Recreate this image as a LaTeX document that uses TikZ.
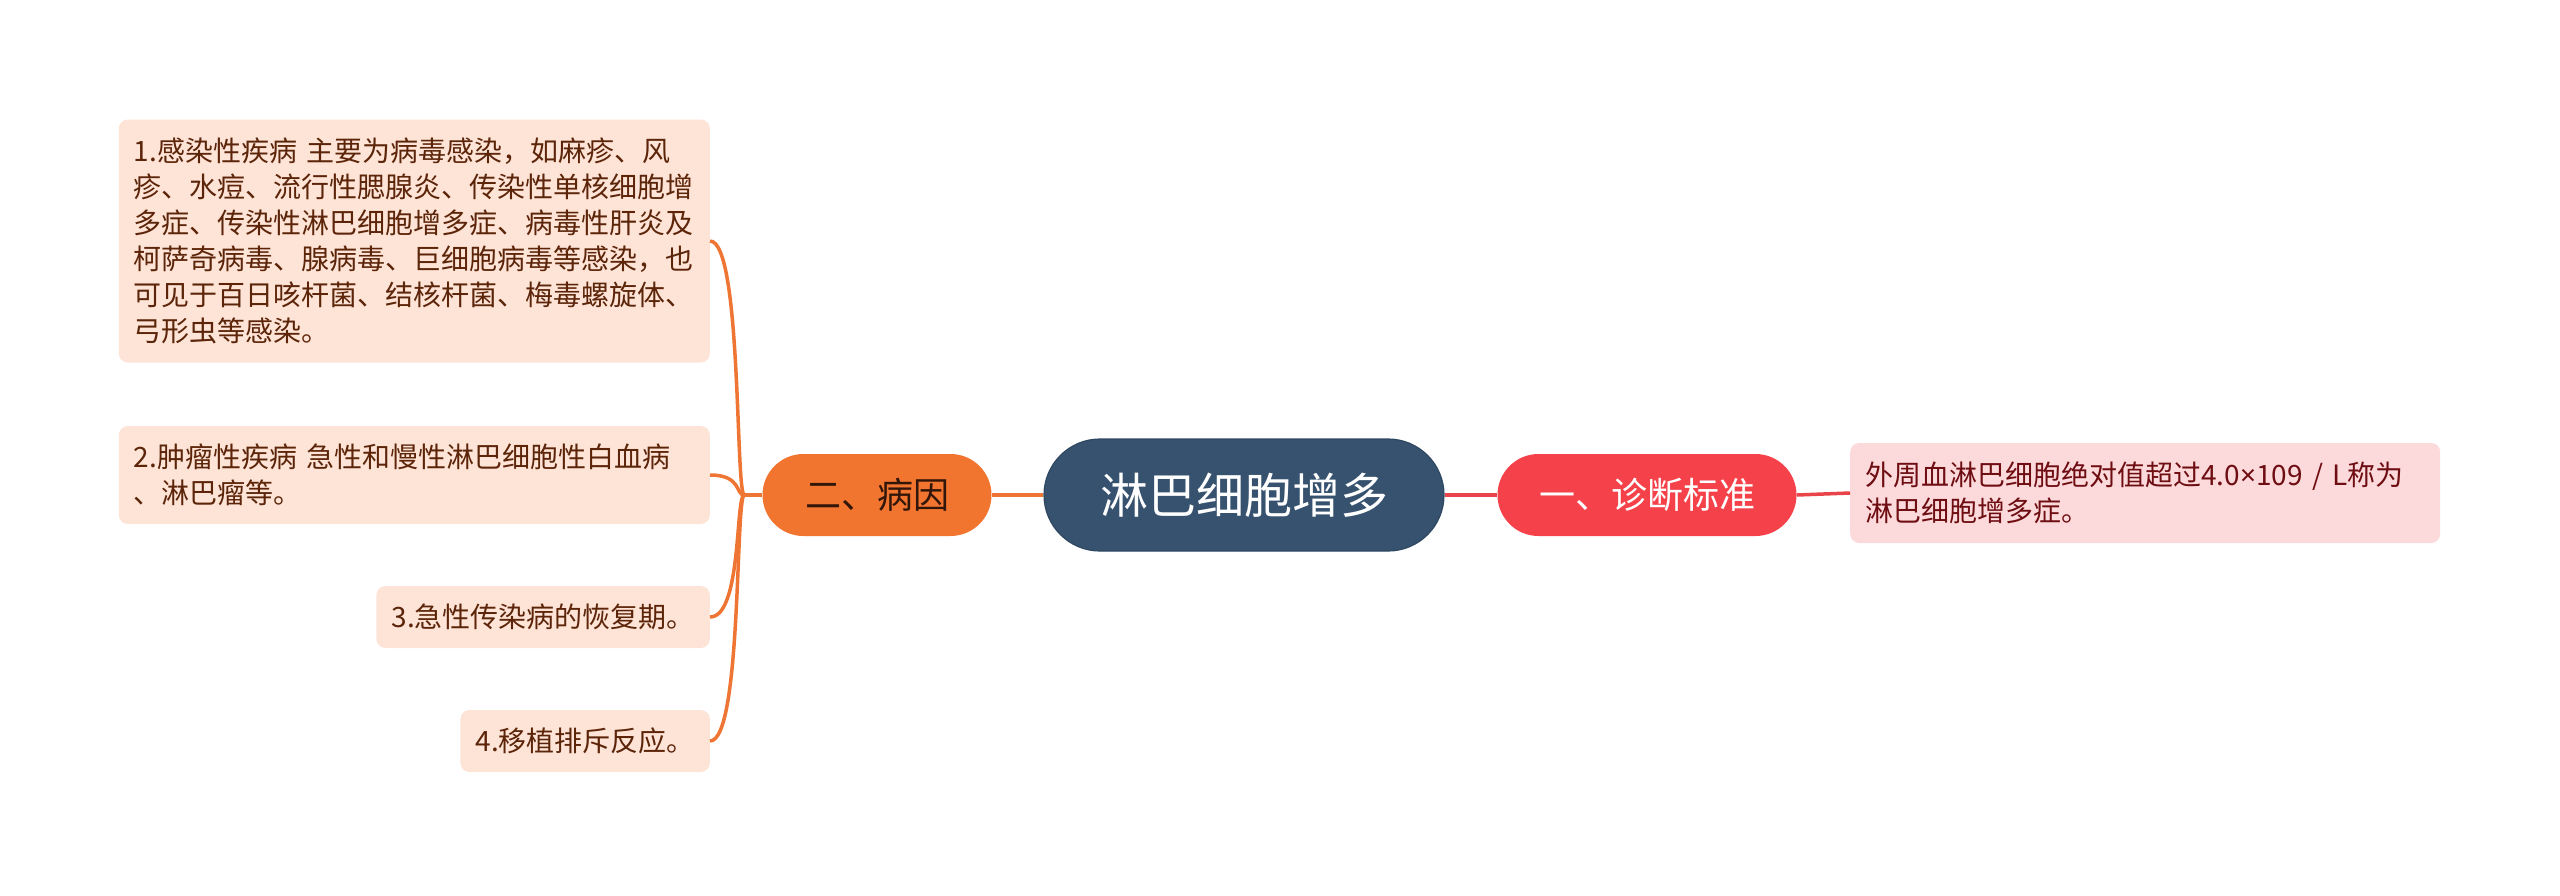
\documentclass[tikz,border=0pt]{standalone}
\usepackage{fontspec}
\setmainfont{Noto Sans CJK SC}
\newfontfamily\latinfont{Noto Sans}
\usetikzlibrary{calc}
\definecolor{rootc}{HTML}{37526E}
\definecolor{rootedge}{HTML}{2F4862}
\definecolor{orangec}{HTML}{F1742F}
\definecolor{redc}{HTML}{F5424A}
\definecolor{peach}{HTML}{FDE4D6}
\definecolor{pinkc}{HTML}{FCDADB}
\definecolor{browntxt}{HTML}{5C2409}
\definecolor{darktxt}{HTML}{33160A}
\definecolor{redtxt}{HTML}{6E0D12}
\definecolor{oline}{HTML}{EE7533}
\definecolor{rline}{HTML}{EA444B}
\tikzset{
  rootnode/.style={fill=rootc, draw=rootedge, line width=1.2pt, text=white,
    minimum width=400pt, minimum height=112pt,
    rounded corners=56pt, inner sep=0pt, font=\fontsize{48}{58}\selectfont},
  mainnode/.style={minimum height=82pt, rounded corners=41pt, inner sep=0pt,
    font=\fontsize{36}{44}\selectfont},
  leafnode/.style={fill=peach, text=browntxt, rounded corners=9pt, align=left,
    inner xsep=15pt, inner ysep=0pt, font=\fontsize{28}{36}\selectfont},
  pinkleaf/.style={leafnode, fill=pinkc, text=redtxt},
  oconn/.style={draw=oline, line width=3.5pt},
  rconn/.style={draw=rline, line width=3.5pt},
}
\begin{document}
\begin{tikzpicture}[x=1pt,y=-1pt]
\useasboundingbox (0,0) rectangle (2560,895);
\node[rootnode] (root) at (1244,495) {淋巴细胞增多};
\node[mainnode, fill=orangec, text=darktxt, minimum width=229pt] (n2) at (877,495) {二、病因};
\node[mainnode, fill=redc, text=white, minimum width=299pt] (n1) at (1647,495) {一、诊断标准};
\node[pinkleaf, anchor=west, text width=560pt, minimum height=100pt] (r1) at (1850,493)
  {外周血淋巴细胞绝对值超过4.0{\latinfont ×}109 / L称为\\淋巴细胞增多症。};
\node[leafnode, anchor=east, text width=561pt, minimum height=243pt] (l1) at (710,241)
  {1.感染性疾病 主要为病毒感染，如麻疹、风\\
   疹、水痘、流行性腮腺炎、传染性单核细胞增\\
   多症、传染性淋巴细胞增多症、病毒性肝炎及\\
   柯萨奇病毒、腺病毒、巨细胞病毒等感染，也\\
   可见于百日咳杆菌、结核杆菌、梅毒螺旋体、\\
   弓形虫等感染。};
\node[leafnode, anchor=east, text width=561pt, minimum height=98pt] (l2) at (710,475)
  {2.肿瘤性疾病 急性和慢性淋巴细胞性白血病\\、淋巴瘤等。};
\node[leafnode, anchor=east, minimum height=62pt] (l3) at (710,617) {3.急性传染病的恢复期。};
\node[leafnode, anchor=east, minimum height=62pt] (l4) at (710,741) {4.移植排斥反应。};
% connectors
\draw[oconn] (root.west) -- (n2.east);
\draw[rconn] (root.east) -- (n1.west);
\draw[rconn] (n1.east) -- (r1.west);
\draw[oconn] (n2.west) -- ++(-18,0) coordinate (j);
\foreach \l in {l1,l2,l3,l4}{
  \draw[oconn] (j) .. controls +(-9,0) and ($(\l.east)+(32,0)$) .. (\l.east);
}
\end{tikzpicture}
\end{document}
